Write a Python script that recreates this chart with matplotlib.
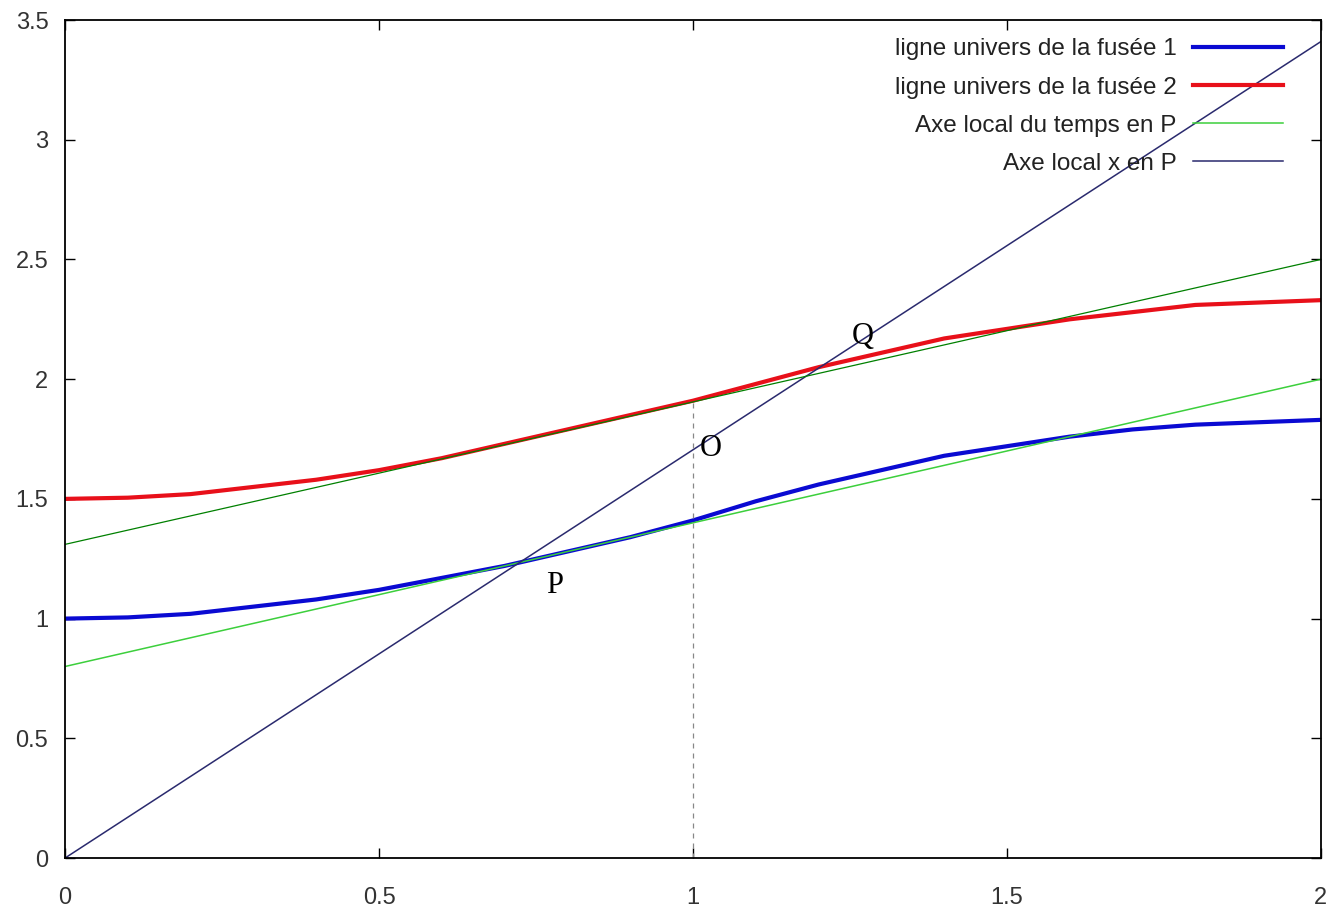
import numpy as np
import matplotlib
matplotlib.use('Agg')
import matplotlib.pyplot as plt

plt.rcParams['font.family'] = ['Liberation Sans', 'DejaVu Sans']

# world lines
x_pts = [0.0, 0.1, 0.2, 0.3, 0.4, 0.5, 0.6, 0.7, 0.75, 0.8, 0.9, 1.0,
         1.1, 1.2, 1.3, 1.4, 1.5, 1.6, 1.7, 1.8, 1.9, 2.0]
fusee1 = [1.0, 1.005, 1.02, 1.05, 1.08, 1.12, 1.17, 1.22, 1.25, 1.28, 1.34, 1.41,
          1.49, 1.56, 1.62, 1.68, 1.72, 1.76, 1.79, 1.81, 1.82, 1.83]
fusee2 = [1.5, 1.505, 1.52, 1.55, 1.58, 1.62, 1.67, 1.73, 1.76, 1.79, 1.85, 1.91,
          1.98, 2.05, 2.11, 2.17, 2.21, 2.25, 2.28, 2.31, 2.32, 2.33]

# straight lines (end points)
x_ends = [0.0, 2.0]
temps_P = [0.8, 2.0]
temps_Q = [1.31, 2.5]
axe_x_P = [0.0, 3.41]

# dashed marker at x = 1
x_O = [1.0, 1.0]
y_O = [0.0, 1.91]

# point labels
pt_names = ['P', 'O', 'Q']
pt_x = [0.78, 1.028, 1.271]
pt_y = [1.14, 1.71, 2.18]

fig = plt.figure(figsize=(13.41, 9.10), dpi=100)
ax = fig.add_axes([0.0485, 0.0571, 0.9365, 0.9209])

ax.plot(x_pts, fusee1, color='#0a0ad2', lw=3.0, label='ligne univers de la fusée 1')
ax.plot(x_pts, fusee2, color='#e8101a', lw=3.0, label='ligne univers de la fusée 2')
ax.plot(x_ends, temps_P, color='#3ccf3c', lw=1.1, label='Axe local du temps en P')
ax.plot(x_ends, axe_x_P, color='#2a2a6e', lw=1.1, label='Axe local x en P')
ax.plot(x_ends, temps_Q, color='#008000', lw=0.9)
ax.plot(x_O, y_O, color='#888888', lw=0.9, ls=(0, (4, 4)))

for name, px, py in zip(pt_names, pt_x, pt_y):
    ax.text(px, py, name, family='Liberation Serif', fontsize=22,
            ha='center', va='center', color='black')

ax.set_xlim(0, 2)
ax.set_ylim(0, 3.5)
ax.set_xticks([0, 0.5, 1, 1.5, 2])
ax.set_xticklabels(['0', '0.5', '1', '1.5', '2'])
ax.set_yticks([0, 0.5, 1, 1.5, 2, 2.5, 3, 3.5])
ax.set_yticklabels(['0', '0.5', '1', '1.5', '2', '2.5', '3', '3.5'])
ax.tick_params(direction='in', length=7, width=1, top=True, right=True,
               labelsize=17, labelcolor='#333333')
ax.tick_params(axis='x', pad=21)
ax.tick_params(axis='y', pad=12)
for s in ax.spines.values():
    s.set_linewidth(1.3)

leg = ax.legend(loc='upper right', bbox_to_anchor=(0.9697, 0.978), frameon=False,
                markerfirst=False, fontsize=17.5, handlelength=3.7,
                handletextpad=0.66, labelspacing=0.66, borderpad=0,
                borderaxespad=0)
for t in leg.get_texts():
    t.set_color('#222222')

plt.savefig('out.png', dpi=100)
